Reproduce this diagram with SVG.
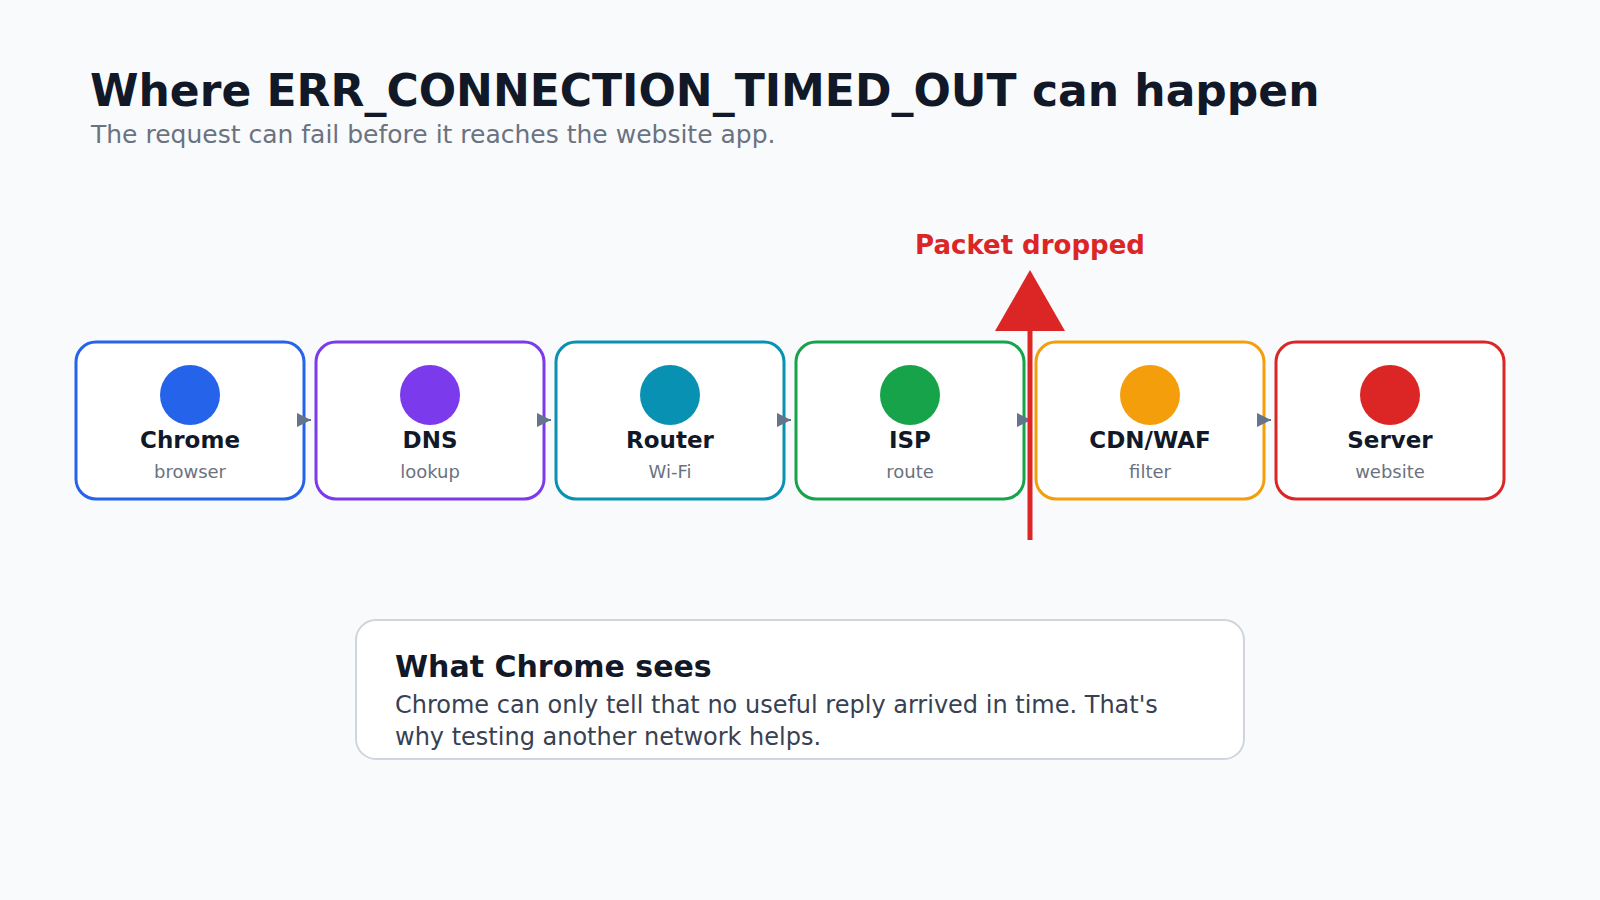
<svg xmlns="http://www.w3.org/2000/svg" width="1600" height="900" viewBox="0 0 1600 900">
<style>
text{font-family:"DejaVu Sans","Liberation Sans",sans-serif}
.title{font-size:44px;font-weight:bold;fill:#111827}
.sub{font-size:25px;fill:#6b7280}
.box{fill:#ffffff;stroke-width:3}
.nm{font-size:23px;font-weight:bold;fill:#111827;text-anchor:middle}
.ds{font-size:18px;fill:#6b7280;text-anchor:middle}
.conn{stroke:#64748b;stroke-width:2;fill:none}
.drop{font-size:26px;font-weight:bold;fill:#dc2626;text-anchor:middle}
.ct{font-size:30px;font-weight:bold;fill:#111827}
.cb{font-size:24px;fill:#374151}
</style>
<defs>
<marker id="ah" viewBox="0 0 10 10" refX="10" refY="5" markerWidth="14" markerHeight="17" markerUnits="userSpaceOnUse" orient="auto">
<path d="M0,0 L10,5 L0,10 Z" fill="#64748b"/>
</marker>
</defs>
<rect width="1600" height="900" fill="#f8fafc"/>
<text class="title" x="90" y="106">Where ERR_CONNECTION_TIMED_OUT can happen</text>
<text class="sub" x="91" y="143">The request can fail before it reaches the website app.</text>

<g id="node-chrome">
<rect class="box" x="76" y="342" width="228" height="157" rx="20" stroke="#2563eb"/>
<circle cx="190" cy="395" r="30" fill="#2563eb"/>
<text class="nm" x="190" y="448">Chrome</text>
<text class="ds" x="190" y="478">browser</text>
</g>
<g id="node-dns">
<rect class="box" x="316" y="342" width="228" height="157" rx="20" stroke="#7c3aed"/>
<circle cx="430" cy="395" r="30" fill="#7c3aed"/>
<text class="nm" x="430" y="448">DNS</text>
<text class="ds" x="430" y="478">lookup</text>
</g>
<g id="node-router">
<rect class="box" x="556" y="342" width="228" height="157" rx="20" stroke="#0891b2"/>
<circle cx="670" cy="395" r="30" fill="#0891b2"/>
<text class="nm" x="670" y="448">Router</text>
<text class="ds" x="670" y="478">Wi-Fi</text>
</g>
<g id="node-isp">
<rect class="box" x="796" y="342" width="228" height="157" rx="20" stroke="#16a34a"/>
<circle cx="910" cy="395" r="30" fill="#16a34a"/>
<text class="nm" x="910" y="448">ISP</text>
<text class="ds" x="910" y="478">route</text>
</g>
<g id="node-cdn">
<rect class="box" x="1036" y="342" width="228" height="157" rx="20" stroke="#f59e0b"/>
<circle cx="1150" cy="395" r="30" fill="#f59e0b"/>
<text class="nm" x="1150" y="448">CDN/WAF</text>
<text class="ds" x="1150" y="478">filter</text>
</g>
<g id="node-server">
<rect class="box" x="1276" y="342" width="228" height="157" rx="20" stroke="#dc2626"/>
<circle cx="1390" cy="395" r="30" fill="#dc2626"/>
<text class="nm" x="1390" y="448">Server</text>
<text class="ds" x="1390" y="478">website</text>
</g>

<g id="connectors">
<path class="conn" d="M304,420 L311,420" marker-end="url(#ah)"/>
<path class="conn" d="M544,420 L551,420" marker-end="url(#ah)"/>
<path class="conn" d="M784,420 L791,420" marker-end="url(#ah)"/>
<path class="conn" d="M1024,420 L1031,420" marker-end="url(#ah)"/>
<path class="conn" d="M1264,420 L1271,420" marker-end="url(#ah)"/>
</g>

<g id="drop">
<line x1="1030" y1="540" x2="1030" y2="325" stroke="#dc2626" stroke-width="5"/>
<path d="M995,331 L1065,331 L1030,270 Z" fill="#dc2626"/>
<text class="drop" x="1030" y="254">Packet dropped</text>
</g>

<g id="note">
<rect x="356" y="620" width="888" height="139" rx="20" fill="#ffffff" stroke="#d1d5db" stroke-width="2"/>
<text class="ct" x="395" y="677">What Chrome sees</text>
<text class="cb" x="395" y="713">Chrome can only tell that no useful reply arrived in time. That's</text>
<text class="cb" x="395" y="745">why testing another network helps.</text>
</g>
</svg>
